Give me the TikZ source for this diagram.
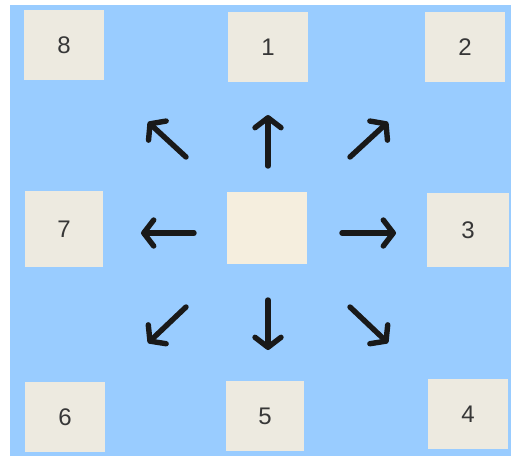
\documentclass[tikz,border=0pt]{standalone}
\usepackage{fontspec}
\setmainfont{Liberation Sans}
\usetikzlibrary{arrows.meta}
\definecolor{bgblue}{RGB}{153,204,255}
\definecolor{boxbeige}{RGB}{237,234,224}
\definecolor{centerbeige}{RGB}{245,238,222}
\definecolor{txt}{RGB}{55,55,55}
\tikzset{
  cell/.style={fill=boxbeige, draw=none, inner sep=0pt, minimum width=80pt, minimum height=70pt,
    font=\fontsize{24}{24}\selectfont, text=txt},
  dirarrow/.style={draw=black!90, line width=5.4pt, line cap=round,
    -{Straight Barb[length=10pt,width=26pt,line cap=round,line join=round]}},
}
\begin{document}
\begin{tikzpicture}[x=1pt,y=-1pt]
\path[use as bounding box, fill=white] (0,0) rectangle (516,456);
\fill[bgblue] (10,5) rectangle (511,456);
\node[cell] (b8) at (64,45) {8};
\node[cell] (b1) at (268,47) {1};
\node[cell] (b2) at (465,47) {2};
\node[cell, minimum width=78pt, minimum height=76pt] (b7) at (64,229) {7};
\node[cell, fill=centerbeige, minimum height=72pt] (bc) at (267,228) {};
\node[cell, minimum width=82pt, minimum height=74pt] (b3) at (468,230) {3};
\node[cell] (b6) at (65,417) {6};
\node[cell, minimum width=78pt] (b5) at (265,416) {5};
\node[cell] (b4) at (468,414) {4};
% arrow ends
\coordinate (nT) at (268,166); \coordinate (nH) at (268,115);
\coordinate (nwT) at (186,157); \coordinate (nwH) at (148,122);
\coordinate (neT) at (350,157); \coordinate (neH) at (388,122);
\coordinate (wT) at (194,233); \coordinate (wH) at (141,233);
\coordinate (eT) at (342,233); \coordinate (eH) at (396,233);
\coordinate (swT) at (186,307); \coordinate (swH) at (148,343);
\coordinate (sT) at (268,300); \coordinate (sH) at (268,350);
\coordinate (seT) at (350,307); \coordinate (seH) at (388,343);
\foreach \d in {n,nw,ne,w,e,sw,s,se} \draw[dirarrow] (\d T) -- (\d H);
\end{tikzpicture}
\end{document}
